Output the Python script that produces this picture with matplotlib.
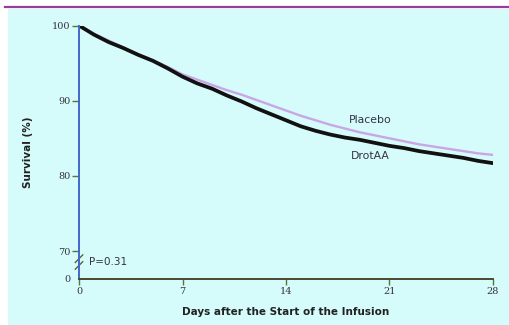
import matplotlib
matplotlib.use("Agg")
import matplotlib.pyplot as plt
from matplotlib.patches import Rectangle
from matplotlib.lines import Line2D

days = list(range(29))
drotaa = [100, 98.8, 97.8, 97.0, 96.1, 95.3, 94.3, 93.2, 92.3, 91.6, 90.7, 89.9,
          89.0, 88.2, 87.4, 86.6, 86.0, 85.5, 85.1, 84.8, 84.4, 84.0, 83.7, 83.3,
          83.0, 82.7, 82.4, 82.0, 81.7]
placebo = [100, 98.9, 98.0, 97.1, 96.2, 95.4, 94.5, 93.5, 92.8, 92.1, 91.4, 90.8,
           90.1, 89.4, 88.7, 88.0, 87.4, 86.8, 86.3, 85.8, 85.4, 85.0, 84.6, 84.2,
           83.9, 83.6, 83.3, 83.0, 82.8]
xticks = [0, 7, 14, 21, 28]
yticks = [70, 80, 90, 100]
ybottom = 66.3
series_labels = ["Placebo", "DrotAA"]
p_text = "P=0.31"

W, H = 510, 325
fig = plt.figure(figsize=(W / 100, H / 100), dpi=100)
fig.patch.set_facecolor("white")
bg = "#d6fbfb"
fig.patches.append(Rectangle((8 / W, 0), 1 - 8 / W, 1 - 9 / H, transform=fig.transFigure,
                             facecolor=bg, edgecolor="none", zorder=-10))
fig.lines.append(Line2D([5 / W, 1], [1 - 6.5 / H, 1 - 6.5 / H], transform=fig.transFigure,
                        color="#9a3c9a", linewidth=1.6, zorder=-5))

ax = fig.add_axes([79 / W, 1 - 279 / H, (493 - 79) / W, (279 - 25.5) / H])
ax.set_zorder(5)
ax.set_facecolor("none")
ax.set_xlim(0, 28)
ax.set_ylim(ybottom, 100)

ax.plot(days, placebo, color="#c9a6e6", linewidth=1.7, solid_joinstyle="round")
ax.plot(days, drotaa, color="#111111", linewidth=2.7, solid_joinstyle="round")

for s in ["top", "right"]:
    ax.spines[s].set_visible(False)
ax.spines["left"].set_color("#4466cc")
ax.spines["left"].set_linewidth(1.4)
ax.spines["bottom"].set_color("#4a4a30")
ax.spines["bottom"].set_linewidth(1.4)

serif = "DejaVu Serif"
ax.set_xticks(xticks)
ax.set_xticklabels([str(t) for t in xticks], family=serif, fontsize=7, color="#333344")
ax.set_yticks(yticks + [ybottom])
ax.set_yticklabels([str(t) for t in yticks] + ["0"], family=serif, fontsize=7, color="#333344")
ax.tick_params(axis="x", length=4, width=1, color="#557733", pad=2)
ax.tick_params(axis="y", length=5, width=1, color="#557733", pad=1)
ax.get_yticklines()[-2].set_visible(False)

# axis break marks
for dy in (0, 0.9):
    ax.plot([-0.25, 0.25], [67.6 + dy, 68.6 + dy], color="#556633", linewidth=1.0,
            clip_on=False)

ax.text(0.7, 68.5, p_text, fontsize=7.5, color="#333344", va="center", ha="left")

ax.text(19.7, 87.45, series_labels[0], fontsize=7.8, color="#333344", va="center", ha="center")
ax.text(19.7, 82.6, series_labels[1], fontsize=7.8, color="#333344", va="center", ha="center")

ax.set_xlabel("Days after the Start of the Infusion", fontsize=7.5, fontweight="bold",
              color="#222222", labelpad=8)
ax.set_ylabel("Survival (%)", fontsize=7.5, fontweight="bold", color="#222222", labelpad=14)

fig.savefig("out.png", dpi=100, facecolor=fig.get_facecolor())
